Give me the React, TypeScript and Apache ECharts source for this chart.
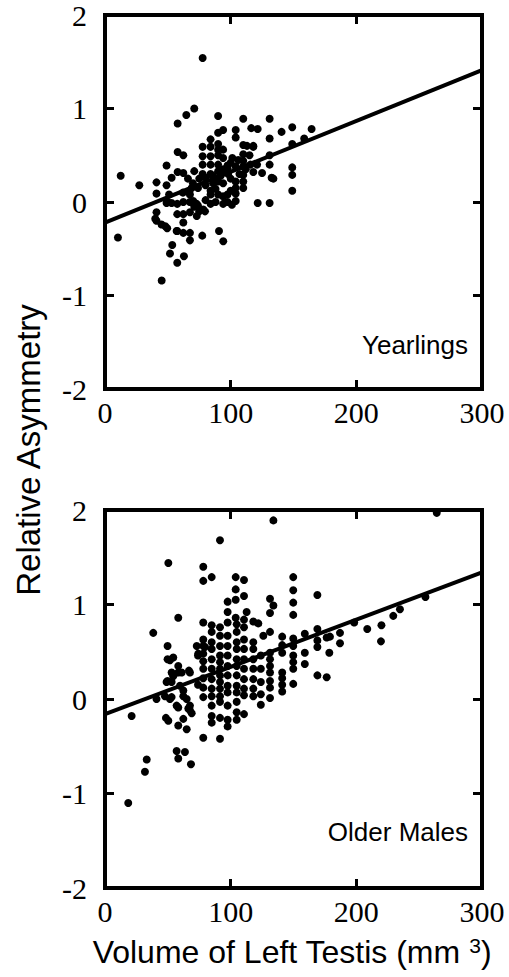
import React, { useEffect, useRef } from "react";
import * as echarts from "echarts";

// Yearlings: [volume of left testis (mm3), relative asymmetry]
const yearlings: number[][] = [
  [12.5, 0.28], [10.3, -0.38], [27.3, 0.18], [41, 0.21], [41, 0.09], [41, -0.11], [41, -0.2],
  [45, -0.24], [49.5, -0.28], [45.1, -0.84], [49, 0.39], [49, 0.18], [53, 0.26], [49, -0.01],
  [53, -0.01], [51, 0.08], [53.5, -0.46], [51.7, -0.55], [57.5, -0.65], [62.8, -0.58],
  [57.5, -0.31], [62.3, -0.33], [67.6, -0.33], [67.6, -0.41], [77.4, -0.36], [90.7, -0.31],
  [94.1, -0.42], [62.3, -0.22], [57.5, -0.13], [62.3, -0.13], [67.6, -0.11], [73, -0.15],
  [57.5, -0.02], [62.3, 0.0], [67.5, 0.0], [71, -0.01], [74, -0.04], [78.2, -0.08], [79.6, -0.1],
  [67.6, 0.08], [70.2, 0.01], [57.8, 0.32], [62.3, 0.31], [57.8, 0.535], [62.3, 0.5], [57.8, 0.84],
  [64.7, 0.93], [71, 1.0], [77.7, 1.54], [71, 0.33], [77.7, 0.3], [84, 0.3], [90, 0.33], [94, 0.35],
  [97.5, 0.36], [104, 0.38], [77.7, 0.4], [84, 0.4], [90, 0.4], [97.5, 0.39], [77.7, 0.49],
  [84, 0.49], [90, 0.5], [94, 0.47], [101.3, 0.47], [110, 0.51], [110, 0.44], [77.7, 0.59],
  [84, 0.59], [90, 0.62], [90, 0.56], [94, 0.56], [110, 0.61], [118, 0.59], [84, 0.67], [90, 0.74],
  [94, 0.77], [104, 0.77], [104, 0.69], [90, 0.92], [110, 0.89], [131, 0.89], [149, 0.8],
  [140.5, 0.75], [116.4, 0.79], [121.5, 0.78], [131, 0.68], [149, 0.62], [164.4, 0.78],
  [158.5, 0.68], [118, 0.6], [131, 0.5], [131, 0.4], [110, 0.38], [115.7, 0.4], [121, 0.4],
  [118, 0.32], [125, 0.31], [132.6, 0.26], [149, 0.37], [149, 0.29], [149, 0.12], [121.5, -0.01],
  [131, -0.01], [94, -0.02], [97.5, 0.0], [104, 0.01], [101, -0.03], [84, 0.08], [90, 0.08],
  [94, 0.06], [97.5, 0.08], [104, 0.09], [110, 0.15], [110, 0.22], [110, 0.29], [67, 0.1],
  [74, 0.15], [80, 0.18], [86, 0.2], [90, 0.22], [94, 0.2], [100, 0.25], [104, 0.22], [84, 0.12],
  [88, 0.14], [70, 0.2], [66, 0.25], [75, 0.25], [80, 0.26], [86, 0.28], [92, 0.28], [98, 0.3],
  [71, -0.05], [75, -0.1], [73, -0.02], [84, -0.02], [88, 0.0], [80, 0.02], [62, 0.1], [69, 0.15],
  [134, 0.25], [100, 0.12], [104, 0.15], [107, 0.3], [112, 0.35], [100, 0.42], [106, 0.45],
  [115, 0.5], [113, 0.6], [40, -0.18], [48, -0.26], [57, -0.31], [50, 0.0],
];

// Older males: [volume of left testis (mm3), relative asymmetry]
const olderMales: number[][] = [
  [18.5, -1.1], [31.8, -0.77], [33.2, -0.64], [21.2, -0.18], [38.4, 0.7], [41, 0], [47.7, 0.03],
  [49, 0.18], [49.8, 0.19], [53, 0.18], [59.7, 0.14], [50.4, 1.44], [49.8, 0.56], [49.8, 0.42],
  [51.7, 0.41], [54.3, 0.44], [58.3, 0.35], [53, 0.28], [58.3, 0.28], [61, 0.28], [67.6, 0.28],
  [54.3, 0.24], [58.3, 0.86], [62.3, 0.09], [62.3, 0.03], [65, 0], [51.7, 0], [53, 0.02],
  [57, -0.07], [58.3, -0.09], [67.6, -0.07], [67.6, -0.12], [66.3, -0.1], [69, -0.15],
  [62.3, -0.21], [58.3, -0.28], [65, -0.32], [50.4, -0.23], [48.5, -0.2], [78.2, -0.41],
  [91.5, -0.42], [57, -0.55], [63.6, -0.56], [58.3, -0.63], [68.4, -0.69], [73, 0.56], [74.2, 0.48],
  [79.6, 0.55], [66.8, 0.3], [78.2, 1.4], [78.2, 1.25], [84.9, 1.29], [91.5, 1.68], [134, 1.89],
  [104, 1.29], [110.6, 1.26], [104, 1.16], [110.6, 1.09], [104, 1.05], [97.6, 1.03], [131.3, 1.06],
  [134, 0.99], [131.3, 0.91], [149.8, 1.29], [149.8, 1.15], [149.8, 1.02], [149.8, 0.89],
  [169, 1.1], [264, 1.97], [97.6, 0.92], [104, 0.86], [112.7, 0.92], [110.6, 0.84], [118, 0.82],
  [122, 0.8], [78.2, 0.81], [84.9, 0.78], [91.5, 0.76], [97.6, 0.81], [104.8, 0.79], [110.6, 0.76],
  [78.2, 0.63], [78.2, 0.56], [78.2, 0.48], [78.2, 0.4], [78.2, 0.32], [78.2, 0.22], [78.2, 0.12],
  [78.2, 0.02], [74, 0.46], [74, 0.15],
  [84.9, 0.71], [84.9, 0.6], [84.9, 0.53], [84.9, 0.42], [84.9, 0.32], [84.9, 0.21], [84.9, 0.11],
  [84.9, 0.03], [84.9, -0.07], [84.9, -0.18], [84.9, -0.25],
  [91.5, 0.67], [91.5, 0.56], [91.5, 0.46], [91.5, 0.39], [91.5, 0.32], [91.5, 0.25], [91.5, 0.18],
  [91.5, 0.11], [91.5, 0.03], [91.5, -0.03], [91.5, -0.2],
  [97.6, 0.67], [97.6, 0.56], [97.6, 0.46], [97.6, 0.35], [97.6, 0.25], [97.6, 0.14], [97.6, 0.07],
  [97.6, -0.07], [97.6, -0.22], [97.6, -0.29],
  [104.8, 0.71], [104.8, 0.6], [104.8, 0.53], [104.8, 0.42], [104.8, 0.35], [104.8, 0.25],
  [104.8, 0.14], [104.8, 0.07], [104.8, -0.03], [104.8, -0.14], [104.8, -0.22],
  [110.6, 0.63], [110.6, 0.53], [110.6, 0.42], [110.6, 0.32], [110.6, 0.21], [110.6, 0.11],
  [110.6, 0.04], [110.6, -0.16],
  [118, 0.6], [118, 0.53], [118, 0.42], [118, 0.32], [118, 0.21], [118, 0.11], [118, 0.03],
  [124, 0.46], [124, 0.32], [124, 0.18], [124, 0.05], [124, -0.06], [126, 0.67],
  [131.3, 0.71], [131.3, 0.49], [131.3, 0.42], [131.3, 0.35], [131.3, 0.28], [131.3, 0.19],
  [131.3, 0.12], [131.3, 0.01],
  [141, 0.66], [141, 0.57], [141, 0.49], [141, 0.28], [141, 0.22], [141, 0.15], [141, 0.08],
  [149.8, 0.64], [149.8, 0.56], [149.8, 0.46], [149.8, 0.39], [149.8, 0.32], [149.8, 0.16],
  [159, 0.69], [159, 0.49], [159, 0.37], [169, 0.74], [169, 0.62], [169, 0.55], [169, 0.25],
  [176.4, 0.65], [179, 0.66], [178.5, 0.49], [176.4, 0.23], [187, 0.7], [187, 0.59], [198.3, 0.81],
  [208.7, 0.74], [220, 0.78], [219.6, 0.61], [229.4, 0.88], [234.7, 0.95], [255, 1.08],
];

const yearlingsFit: number[][] = [[0, -0.22], [300, 1.41]];
const olderFit: number[][] = [[0, -0.16], [300, 1.34]];

const xTicks = { min: 0, max: 300, interval: 100 };
const yTicks = { min: -2, max: 2, interval: 1 };
const panelLabels = ["Yearlings", "Older Males"];
const yTitle = "Relative Asymmetry";
const xTitle = "Volume of Left Testis (mm";

const SERIF = "Times New Roman, DejaVu Serif, serif";
const SANS = "Liberation Sans";

export default function App() {
  const ref = useRef<HTMLDivElement>(null);

  useEffect(() => {
    document.body.style.margin = "0";
    if (!ref.current) return;
    const chart = echarts.init(ref.current, undefined, { renderer: "svg" });

    const lineStyle = { color: "#000", width: 4, cap: "square" as const };
    const tick = { show: true, inside: true, length: 9, lineStyle: { color: "#000", width: 3 } };
    const label = { color: "#000", fontFamily: SERIF, fontSize: 30 };

    const xAxes: any[] = [];
    const yAxes: any[] = [];
    [0, 1].forEach((g) => {
      xAxes.push({
        gridIndex: g, type: "value", position: "bottom", ...xTicks,
        axisLine: { show: true, onZero: false, lineStyle }, axisTick: tick, splitLine: { show: false },
        axisLabel: { ...label, margin: 8 },
      });
      xAxes.push({
        gridIndex: g, type: "value", position: "top", ...xTicks,
        axisLine: { show: true, onZero: false, lineStyle }, axisTick: tick, splitLine: { show: false },
        axisLabel: { show: false },
      });
      yAxes.push({
        gridIndex: g, type: "value", position: "left", ...yTicks,
        axisLine: { show: true, onZero: false, lineStyle }, axisTick: tick, splitLine: { show: false },
        axisLabel: { ...label, margin: 18 },
      });
      yAxes.push({
        gridIndex: g, type: "value", position: "right", ...yTicks,
        axisLine: { show: true, onZero: false, lineStyle }, axisTick: tick, splitLine: { show: false },
        axisLabel: { show: false },
      });
    });

    const scatter = (data: number[][], g: number) => ({
      type: "scatter", xAxisIndex: g * 2, yAxisIndex: g * 2, data,
      symbol: "circle", symbolSize: 8, itemStyle: { color: "#000", opacity: 1 }, silent: true,
    });
    const fit = (data: number[][], g: number) => ({
      type: "line", xAxisIndex: g * 2, yAxisIndex: g * 2, data,
      showSymbol: false, lineStyle: { color: "#000", width: 4 }, silent: true,
    });

    chart.setOption({
      animation: false,
      backgroundColor: "#fff",
      grid: [
        { left: 105, top: 13, width: 377, height: 376 },
        { left: 105, top: 510, width: 377, height: 378 },
      ],
      xAxis: xAxes,
      yAxis: yAxes,
      series: [
        scatter(yearlings, 0), fit(yearlingsFit, 0),
        scatter(olderMales, 1), fit(olderFit, 1),
      ],
      graphic: [
        {
          type: "text", x: 468, y: 345,
          style: { text: panelLabels[0], font: `26px ${SANS}`, fill: "#000", textAlign: "right", textVerticalAlign: "middle" },
        },
        {
          type: "text", x: 468, y: 832,
          style: { text: panelLabels[1], font: `26px ${SANS}`, fill: "#000", textAlign: "right", textVerticalAlign: "middle" },
        },
        {
          type: "text", x: 28, y: 450, rotation: Math.PI / 2,
          style: { text: yTitle, font: `33px ${SANS}`, fill: "#000", textAlign: "center", textVerticalAlign: "middle" },
        },
        {
          type: "text", x: 292, y: 952,
          style: {
            text: `${xTitle} {sup|3})`,
            font: `32px ${SANS}`, fill: "#000", textAlign: "center", textVerticalAlign: "middle",
            rich: { sup: { fontSize: 21, fontFamily: SANS, verticalAlign: "top", padding: [0, 0, 14, 0] } },
          },
        },
      ],
    });
    return () => chart.dispose();
  }, []);

  return <div ref={ref} style={{ width: 509, height: 977 }} />;
}
